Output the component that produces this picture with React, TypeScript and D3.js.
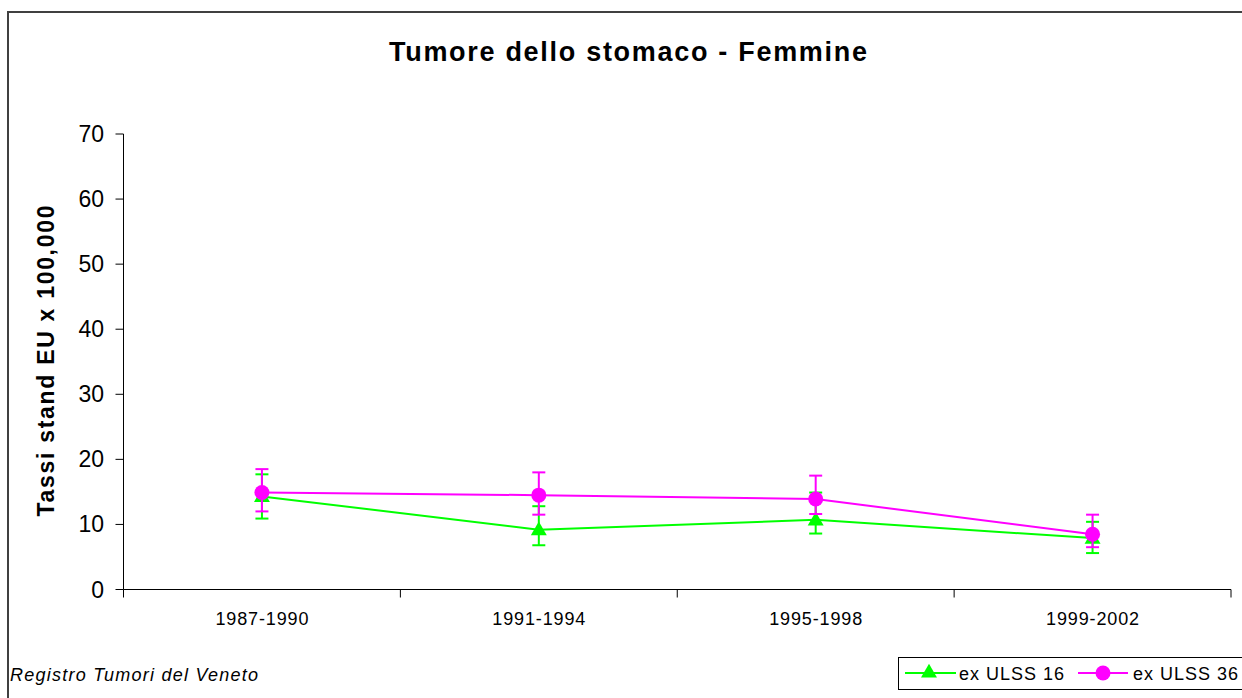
import React from "react";
import * as d3 from "d3";

const categories = ["1987-1990", "1991-1994", "1995-1998", "1999-2002"];
const yTicks = [0, 10, 20, 30, 40, 50, 60, 70];

const ulss16Value = [14.3, 9.2, 10.7, 7.9];
const ulss16Low = [10.9, 6.8, 8.6, 5.6];
const ulss16High = [17.7, 12.8, 14.9, 10.4];

const ulss36Value = [14.9, 14.5, 13.9, 8.5];
const ulss36Low = [12.0, 11.5, 11.6, 6.5];
const ulss36High = [18.5, 18.0, 17.5, 11.5];

const seriesNames = ["ex ULSS 16", "ex ULSS 36"];
const titleText = "Tumore dello stomaco - Femmine";
const yLabel = "Tassi stand EU x 100,000";
const sourceText = "Registro Tumori del Veneto";

const GREEN = "#00FF00";
const MAGENTA = "#FF00FF";
const FONT = "Liberation Sans, Arial, sans-serif";

export default function App() {
  const W = 1242;
  const H = 698;
  const left = 123.5;
  const right = 1231;
  const top = 134;
  const bottom = 589.5;

  const x = d3.scaleBand<string>().domain(categories).range([left, right]).padding(0);
  const cx = (c: string) => (x(c) as number) + x.bandwidth() / 2;
  const y = d3.scaleLinear().domain([0, 70]).range([bottom, top]);

  const line = d3
    .line<number>()
    .x((_, i) => cx(categories[i]))
    .y((d) => y(d));

  const series = [
    { name: seriesNames[0], v: ulss16Value, lo: ulss16Low, hi: ulss16High, color: GREEN, marker: "tri" },
    { name: seriesNames[1], v: ulss36Value, lo: ulss36Low, hi: ulss36High, color: MAGENTA, marker: "circle" },
  ];

  const tri = d3.symbol().type(d3.symbolTriangle).size(110)() as string;

  const marker = (kind: string, px: number, py: number, color: string, key: string) =>
    kind === "tri" ? (
      <path key={key} d={tri} transform={`translate(${px},${py + 1})`} fill={color} />
    ) : (
      <circle key={key} cx={px} cy={py} r={7.5} fill={color} />
    );

  const boundaries = [...categories.map((c) => x(c) as number), right];

  return (
    <svg
      width={W}
      height={H}
      style={{ position: "absolute", left: 0, top: 0, background: "#fff" }}
      fontFamily={FONT}
    >
      <rect x={0} y={0} width={W} height={H} fill="#fff" />
      {/* outer frame */}
      <rect x={8} y={12} width={1260} height={720} fill="none" stroke="#404040" strokeWidth={2} />

      {/* title */}
      <text x={628} y={61} textAnchor="middle" fontSize={27} fontWeight="bold" textLength={478} lengthAdjust="spacing">
        {titleText}
      </text>

      {/* y label */}
      <text
        transform={`translate(54,361) rotate(-90)`}
        textAnchor="middle"
        fontSize={23}
        fontWeight="bold"
        textLength={311}
        lengthAdjust="spacing"
      >
        {yLabel}
      </text>

      {/* y axis */}
      <line x1={left} x2={left} y1={top} y2={bottom} stroke="#000" strokeWidth={1} />
      {yTicks.map((t) => (
        <g key={t}>
          <line x1={left - 8} x2={left} y1={y(t)} y2={y(t)} stroke="#000" strokeWidth={1} />
          <text x={104} y={y(t) + 8} textAnchor="end" fontSize={23}>
            {t}
          </text>
        </g>
      ))}

      {/* x axis */}
      <line x1={left} x2={right} y1={bottom} y2={bottom} stroke="#000" strokeWidth={1} />
      {boundaries.map((b, i) => (
        <line key={i} x1={b} x2={b} y1={bottom} y2={bottom + 8} stroke="#000" strokeWidth={1} />
      ))}
      {categories.map((c) => (
        <text key={c} x={cx(c)} y={625} textAnchor="middle" fontSize={18} textLength={93} lengthAdjust="spacing">
          {c}
        </text>
      ))}

      {/* series */}
      {series.map((s) => (
        <g key={s.name}>
          <path d={line(s.v) as string} fill="none" stroke={s.color} strokeWidth={2} />
          {s.v.map((_, i) => {
            const px = cx(categories[i]);
            return (
              <g key={i} stroke={s.color} strokeWidth={2}>
                <line x1={px} x2={px} y1={y(s.lo[i])} y2={y(s.hi[i])} />
                <line x1={px - 6.5} x2={px + 6.5} y1={y(s.lo[i])} y2={y(s.lo[i])} />
                <line x1={px - 6.5} x2={px + 6.5} y1={y(s.hi[i])} y2={y(s.hi[i])} />
              </g>
            );
          })}
          {s.v.map((d, i) => marker(s.marker, cx(categories[i]), y(d), s.color, `m${i}`))}
        </g>
      ))}

      {/* source */}
      <text x={10} y={681} fontSize={18} fontStyle="italic" textLength={248} lengthAdjust="spacing">
        {sourceText}
      </text>

      {/* legend */}
      <rect x={898.5} y={657.5} width={360} height={32} fill="#fff" stroke="#000" strokeWidth={1} />
      <line x1={905} x2={956} y1={673} y2={673} stroke={GREEN} strokeWidth={2} />
      {marker("tri", 929, 672, GREEN, "lg1")}
      <text x={959} y={680} fontSize={18} textLength={105} lengthAdjust="spacing">
        {seriesNames[0]}
      </text>
      <line x1={1078} x2={1128} y1={673} y2={673} stroke={MAGENTA} strokeWidth={2} />
      {marker("circle", 1103, 673, MAGENTA, "lg2")}
      <text x={1133} y={680} fontSize={18} textLength={105} lengthAdjust="spacing">
        {seriesNames[1]}
      </text>
    </svg>
  );
}
